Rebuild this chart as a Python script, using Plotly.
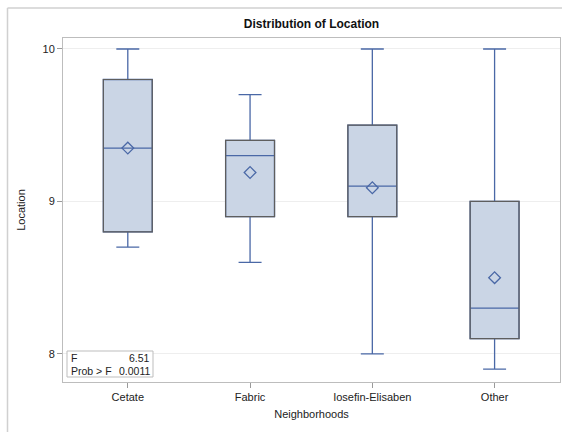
import plotly.graph_objects as go

categories = ["Cetate", "Fabric", "Iosefin-Elisaben", "Other"]
lower_whisker = [8.7, 8.6, 8.0, 7.9]
q1_values = [8.8, 8.9, 8.9, 8.1]
median_values = [9.35, 9.3, 9.1, 8.3]
q3_values = [9.8, 9.4, 9.5, 9.0]
upper_whisker = [10.0, 9.7, 10.0, 10.0]
mean_values = [9.35, 9.19, 9.09, 8.5]
y_ticks = [8, 9, 10]
f_value = "6.51"
p_value = "0.0011"

FILL = "#CAD5E5"
BLUE = "#4A68A6"
OUTLINE = "#5E5E5E"
FONT = "Liberation Sans, Arial, sans-serif"

X_RANGE = [-0.53, 3.535]
Y_RANGE = [7.816, 10.072]

fig = go.Figure()

# main box (blue whiskers, median)
fig.add_trace(go.Box(
    x=categories, q1=q1_values, median=median_values, q3=q3_values,
    lowerfence=lower_whisker, upperfence=upper_whisker,
    fillcolor=FILL, line=dict(color=BLUE, width=1.3),
    width=0.4, whiskerwidth=0.47, boxpoints=False, hoverinfo="skip",
    showlegend=False,
))
# gray outline of the box on an overlaying axis pair (drawn on top)
fig.add_trace(go.Bar(
    x=categories, base=q1_values,
    y=[hi - lo for hi, lo in zip(q3_values, q1_values)],
    width=0.4, marker=dict(color="rgba(0,0,0,0)", line=dict(color=OUTLINE, width=1.2)),
    showlegend=False, hoverinfo="skip", xaxis="x2", yaxis="y2",
))
# means
fig.add_trace(go.Scatter(
    x=categories, y=mean_values, mode="markers",
    marker=dict(symbol="diamond-open", size=9, color=BLUE, line=dict(width=1.3, color=BLUE)),
    showlegend=False, hoverinfo="skip", xaxis="x2", yaxis="y2",
))

L, R, T, B = 63, 2, 38, 50
W, H = 562, 432
pw, ph = W - L - R, H - T - B

def px(x):
    return (x - L) / pw

def py(y):
    return (H - B - y) / ph

shapes = [
    dict(type="line", xref="paper", yref="paper", x0=px(7.5), x1=px(7.5), y0=py(8), y1=py(440),
         line=dict(color="#D0D0D0", width=1.5)),
    dict(type="line", xref="paper", yref="paper", x0=px(7.5), x1=px(570), y0=py(8), y1=py(8),
         line=dict(color="#D0D0D0", width=1.5)),
    dict(type="rect", xref="paper", yref="paper", x0=px(67), x1=px(153), y0=py(377), y1=py(351),
         line=dict(color="#BDBDBD", width=1), fillcolor="white"),
]

annotations = []
for label, val, yy in [("F", f_value, 358), ("Prob > F", p_value, 370.5)]:
    annotations.append(dict(xref="paper", yref="paper", x=px(69), y=py(yy), text=label,
                            showarrow=False, xanchor="left", yanchor="middle",
                            font=dict(family=FONT, size=10.5, color="#222")))
    annotations.append(dict(xref="paper", yref="paper", x=px(152), y=py(yy), text=val,
                            showarrow=False, xanchor="right", yanchor="middle",
                            font=dict(family=FONT, size=10.5, color="#222")))

fig.update_layout(
    width=W, height=H,
    margin=dict(l=L, r=R, t=T, b=B),
    paper_bgcolor="white", plot_bgcolor="white",
    boxmode="overlay",
    title=dict(text="<b>Distribution of Location</b>", x=px(311.5), xref="paper",
               y=1 - 24 / H, yref="container", xanchor="center", yanchor="middle",
               font=dict(family=FONT, size=12, color="#111")),
    font=dict(family=FONT, size=11, color="#222"),
    shapes=shapes,
    annotations=annotations,
    xaxis=dict(
        range=X_RANGE, showgrid=False, zeroline=False,
        categoryorder="array", categoryarray=categories,
        showline=True, linecolor="#BDBDBD", linewidth=1, mirror=True,
        ticks="outside", ticklen=5, tickcolor="#9A9A9A",
        tickfont=dict(family=FONT, size=11, color="#222"),
        title=dict(text="Neighborhoods", standoff=8, font=dict(family=FONT, size=11, color="#222")),
    ),
    yaxis=dict(
        range=Y_RANGE, tickvals=y_ticks, ticktext=[str(v) for v in y_ticks],
        showgrid=True, gridcolor="#EEEEEE", gridwidth=1, zeroline=False,
        showline=True, linecolor="#BDBDBD", linewidth=1, mirror=True,
        ticks="outside", ticklen=5, tickcolor="#9A9A9A",
        tickfont=dict(family=FONT, size=11, color="#222"),
        title=dict(text="Location", standoff=14, font=dict(family=FONT, size=11, color="#222")),
    ),
    xaxis2=dict(overlaying="x", range=X_RANGE, visible=False,
                categoryorder="array", categoryarray=categories),
    yaxis2=dict(overlaying="y", range=Y_RANGE, visible=False),
)

fig.write_html("out.html")
